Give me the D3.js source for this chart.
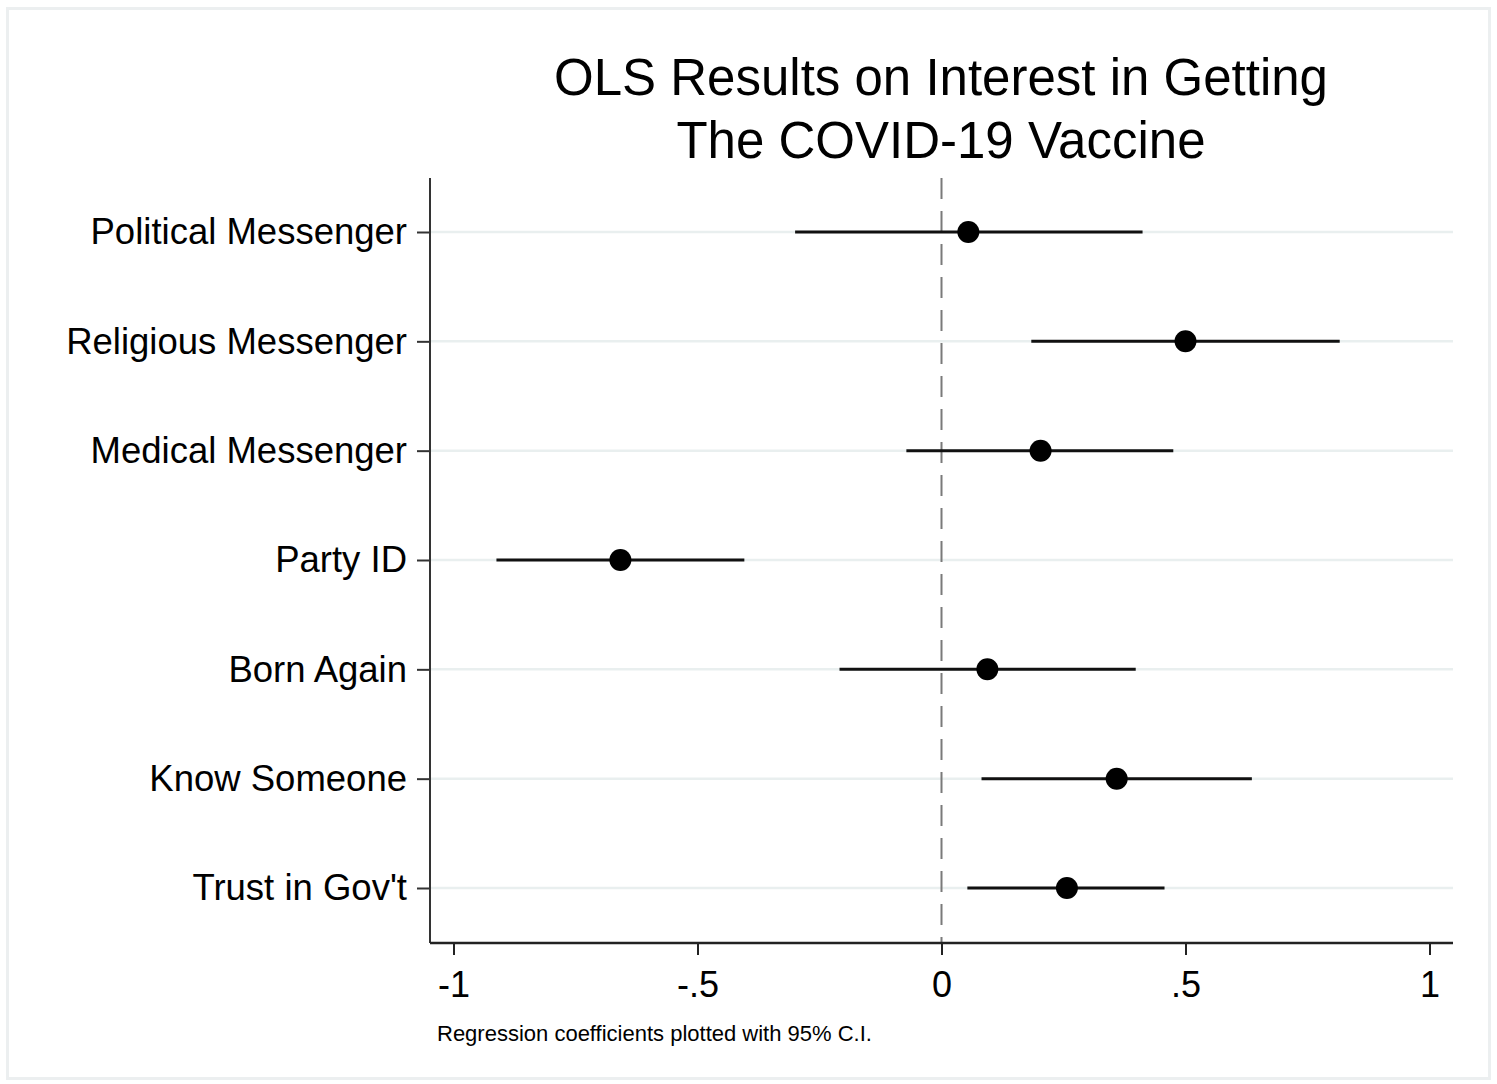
<!DOCTYPE html>
<html>
<head>
<meta charset="utf-8">
<script src="https://d3js.org/d3.v7.min.js"></script>
<style>
  body { margin: 0; background: #ffffff; }
  text { font-family: "Liberation Sans", Arial, Helvetica, sans-serif; fill: #000; }
</style>
</head>
<body>
<div id="chart"></div>
<script>
// the data
var categories = ["Political Messenger", "Religious Messenger", "Medical Messenger",
  "Party ID", "Born Again", "Know Someone", "Trust in Gov't"];
var coefs = [0.055, 0.500, 0.203, -0.658, 0.094, 0.359, 0.257];
var ciLow = [-0.300, 0.184, -0.072, -0.912, -0.209, 0.082, 0.053];
var ciHigh = [0.412, 0.816, 0.475, -0.404, 0.398, 0.636, 0.457];
var xTicks = [-1, -0.5, 0, 0.5, 1];
var xTickLabels = ["-1", "-.5", "0", ".5", "1"];

var width = 1497;
var height = 1084;

// plot region (plotTop, since "top" is taken by window)
var plotLeft = 430;
var plotRight = 1453;
var plotTop = 178;
var plotBottom = 943;

var svg = d3.select("#chart")
  .append("svg")
  .attr("width", width)
  .attr("height", height);

// faint outer frame
svg.append("rect")
  .attr("x", 7.5)
  .attr("y", 8.5)
  .attr("width", 1482)
  .attr("height", 1070)
  .attr("fill", "#ffffff")
  .attr("stroke", "#eceff0")
  .attr("stroke-width", 3);

var xScale = d3.scaleLinear()
  .domain([-1, 1])
  .range([453.5, 1429.5]);

var yScale = d3.scalePoint()
  .domain(categories)
  .range([232, 888]);

var rows = categories.map(function(c, i) {
  return { name: c, b: coefs[i], lo: ciLow[i], hi: ciHigh[i] };
});

// title, two lines
var title = svg.append("text")
  .attr("text-anchor", "middle")
  .attr("font-size", 51);
title.append("tspan").attr("x", 941).attr("y", 95).text("OLS Results on Interest in Getting");
title.append("tspan").attr("x", 941).attr("y", 158).text("The COVID-19 Vaccine");

// horizontal grid lines
svg.append("g")
  .selectAll("line")
  .data(categories)
  .enter()
  .append("line")
  .attr("x1", plotLeft)
  .attr("x2", plotRight)
  .attr("y1", function(d) { return yScale(d); })
  .attr("y2", function(d) { return yScale(d); })
  .attr("stroke", "#e9efef")
  .attr("stroke-width", 2.5);

// zero reference line
svg.append("line")
  .attr("x1", xScale(0))
  .attr("x2", xScale(0))
  .attr("y1", plotTop)
  .attr("y2", plotBottom)
  .attr("stroke", "#7a7a7a")
  .attr("stroke-width", 2)
  .attr("stroke-dasharray", "21,12");

// y axis
var yAxis = d3.axisLeft(yScale).tickSize(13).tickPadding(10);
var yG = svg.append("g")
  .attr("transform", "translate(" + plotLeft + ",0)")
  .call(yAxis);
yG.select(".domain").remove();
yG.append("line")
  .attr("x1", 0).attr("x2", 0)
  .attr("y1", plotTop).attr("y2", plotBottom)
  .attr("stroke", "#333").attr("stroke-width", 2);
yG.selectAll(".tick line").attr("stroke", "#333").attr("stroke-width", 2);
yG.selectAll(".tick text")
  .attr("font-size", 36.5)
  .attr("font-family", "Liberation Sans, Arial, sans-serif")
  .attr("fill", "#000");

// x axis
var xAxis = d3.axisBottom(xScale)
  .tickValues(xTicks)
  .tickFormat(function(d, i) { return xTickLabels[i]; })
  .tickSize(12)
  .tickPadding(16);
var xG = svg.append("g")
  .attr("transform", "translate(0," + plotBottom + ")")
  .call(xAxis);
xG.select(".domain").remove();
xG.append("line")
  .attr("x1", plotLeft).attr("x2", plotRight)
  .attr("y1", 0).attr("y2", 0)
  .attr("stroke", "#222").attr("stroke-width", 2.5);
xG.selectAll(".tick line").attr("stroke", "#222").attr("stroke-width", 2);
xG.selectAll(".tick text")
  .attr("font-size", 36)
  .attr("font-family", "Liberation Sans, Arial, sans-serif")
  .attr("fill", "#000");

// confidence intervals
svg.append("g")
  .selectAll("line")
  .data(rows)
  .enter()
  .append("line")
  .attr("x1", function(d) { return xScale(d.lo); })
  .attr("x2", function(d) { return xScale(d.hi); })
  .attr("y1", function(d) { return yScale(d.name); })
  .attr("y2", function(d) { return yScale(d.name); })
  .attr("stroke", "#111")
  .attr("stroke-width", 3);

// point estimates
svg.append("g")
  .selectAll("circle")
  .data(rows)
  .enter()
  .append("circle")
  .attr("cx", function(d) { return xScale(d.b); })
  .attr("cy", function(d) { return yScale(d.name); })
  .attr("r", 11)
  .attr("fill", "#000");

// footnote
svg.append("text")
  .attr("x", 437)
  .attr("y", 1041)
  .attr("font-size", 22)
  .text("Regression coefficients plotted with 95% C.I.");
</script>
</body>
</html>
